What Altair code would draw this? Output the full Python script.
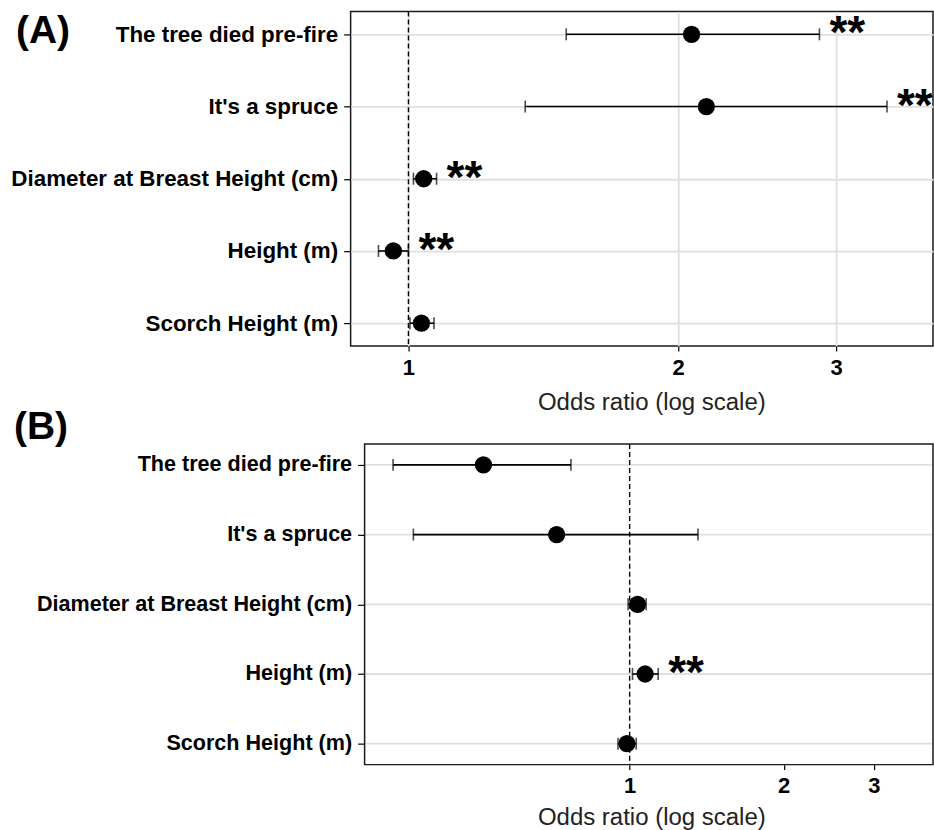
import math

import altair as alt
import pandas as pd

predictors = [
    "The tree died pre-fire",
    "It's a spruce",
    "Diameter at Breast Height (cm)",
    "Height (m)",
    "Scorch Height (m)",
]

# (A) odds ratios with 95% confidence limits
a_odds = [2.07, 2.15, 1.04, 0.962, 1.034]
a_low = [1.50, 1.35, 1.013, 0.926, 1.004]
a_high = [2.875, 3.42, 1.075, 1.00, 1.068]
a_sig = ["**", "**", "**", "**", ""]

# (B) odds ratios with 95% confidence limits
b_odds = [0.518, 0.72, 1.036, 1.072, 0.988]
b_low = [0.345, 0.378, 0.993, 1.013, 0.949]
b_high = [0.768, 1.36, 1.077, 1.137, 1.030]
b_sig = ["", "", "", "**", ""]

x_ticks = [1, 2, 3]
x_title = "Odds ratio (log scale)"
FONT = "Liberation Sans"
FRAME = "#1a1a1a"
GRID = "#e0e0e0"


def panel(tag, odds, low, high, sig, x_domain, panel_left, width, height,
          y_pad, label_size, title_pad, tag_x, tag_y):
    """One forest-plot panel.  panel_left is the x value where the framed
    panel starts; if it is above the scale minimum the frame and gridlines
    are drawn as marks and the y axis is pulled in to meet it."""
    df = pd.DataFrame({"predictor": predictors, "odds": odds,
                       "low": low, "high": high, "sig": sig})
    inset = panel_left > x_domain[0]
    xscale = alt.Scale(type="log", domain=x_domain, nice=False, zero=False)

    def xenc(field):
        return alt.X(f"{field}:Q", scale=xscale, title=x_title,
                     axis=alt.Axis(values=x_ticks, format="d",
                                   titlePadding=title_pad))

    y_axis_opts = dict(labelFontSize=label_size, grid=not inset)
    if inset:
        span = math.log(x_domain[1]) - math.log(x_domain[0])
        shift = width * (math.log(panel_left) - math.log(x_domain[0])) / span
        y_axis_opts["offset"] = -round(shift)
    y = alt.Y("predictor:N", sort=predictors, title=None,
              scale=alt.Scale(type="point", padding=y_pad),
              axis=alt.Axis(**y_axis_opts))

    base = alt.Chart(df)
    layers = []
    if inset:
        layers.append(base.mark_rule(color=GRID, strokeWidth=1.8).encode(
            x=alt.datum(panel_left), x2=alt.datum(x_domain[1]), y=y))
    layers.append(alt.Chart(pd.DataFrame({"odds": [1.0]})).mark_rule(
        color="black", strokeDash=[5, 3], strokeWidth=1.4
    ).encode(x=xenc("odds")))
    layers.append(base.mark_rule(color="black", strokeWidth=1.6).encode(
        x=xenc("low"), x2="high:Q", y=y))
    layers.append(base.mark_tick(color="black", size=12, thickness=1.6).encode(
        x=xenc("low"), y=y))
    layers.append(base.mark_tick(color="black", size=12, thickness=1.6).encode(
        x=xenc("high"), y=y))
    layers.append(base.mark_circle(color="black", opacity=1, size=300).encode(
        x=xenc("odds"), y=y))
    layers.append(base.mark_text(
        align="left", baseline="alphabetic", dx=10, dy=14, clip=True,
        fontSize=46, fontWeight="bold", font=FONT, color="black"
    ).encode(x=xenc("high"), y=y, text="sig:N"))
    if inset:
        layers.append(alt.Chart(pd.DataFrame({"edge": [0]})).mark_rect(
            filled=False, stroke=FRAME, strokeWidth=1.5
        ).encode(x=alt.datum(panel_left), x2=alt.datum(x_domain[1]),
                 y=alt.value(0), y2=alt.value(height)))
    layers.append(alt.Chart(pd.DataFrame({"tag": [tag]})).mark_text(
        align="left", baseline="alphabetic", fontSize=39,
        fontWeight="bold", font=FONT, color="black"
    ).encode(x=alt.value(tag_x), y=alt.value(tag_y), text="tag:N"))

    chart = alt.layer(*layers).properties(width=width, height=height)
    if inset:
        chart = chart.properties(view=alt.ViewBackground(stroke=None))
    return chart


panel_a = panel("(A)", a_odds, a_low, a_high, a_sig, [0.862, 3.849], 0.862,
                583, 335, 0.317, 22.4, 12, -335, 32)
panel_b = panel("(B)", b_odds, b_low, b_high, b_sig, [0.285, 3.915], 0.3035,
                583, 321, 0.30, 21.6, 9, -337, -5)

chart = alt.ConcatChart(
    concat=[panel_a, panel_b], columns=1, spacing=-7
).properties(
    padding={"left": 10, "top": 9, "right": 0, "bottom": 0}
).configure_view(
    stroke=FRAME, strokeWidth=1.5
).configure_axis(
    domain=False, tickColor="black", tickWidth=1.2,
    gridColor=GRID, gridWidth=1.8,
    labelFont=FONT, labelFontWeight="bold", labelColor="black",
    titleFont=FONT,
).configure_axisX(
    tickSize=5, labelFontSize=22, labelPadding=6,
    titleFontSize=24, titleFontWeight="normal", titleColor="#222222",
    titleX=301,
).configure_axisY(
    tickSize=7, labelPadding=6, labelLimit=0,
)

chart.save("out.html", embed_options={"renderer": "svg", "actions": False})
